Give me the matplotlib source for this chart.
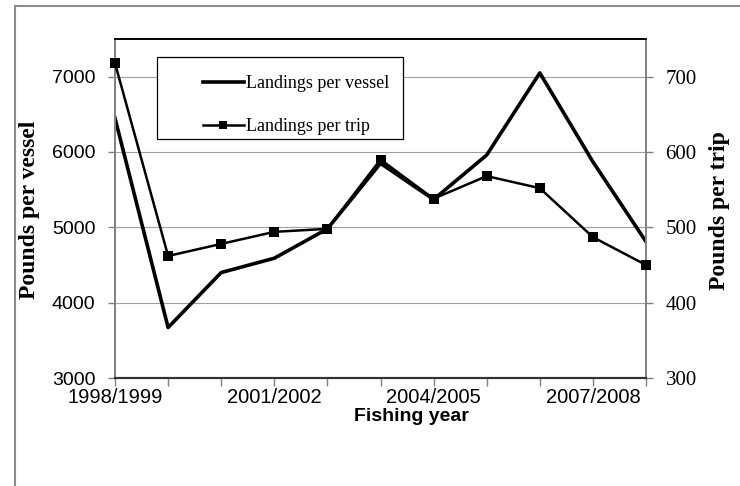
import matplotlib.pyplot as plt
from matplotlib.lines import Line2D
from matplotlib.patches import Rectangle

plt.rcParams['font.family'] = ['Liberation Sans', 'DejaVu Sans']

years = ['1998/1999', '1999/2000', '2000/2001', '2001/2002', '2002/2003', '2003/2004',
         '2004/2005', '2005/2006', '2006/2007', '2007/2008', '2008/2009']
per_vessel = [6450, 3670, 4400, 4590, 4980, 5850, 5370, 5960, 7050, 5870, 4810]
per_trip = [718, 462, 478, 494, 498, 590, 538, 568, 552, 487, 450]
shown = ['1998/1999', '2001/2002', '2004/2005', '2007/2008']
tick_labels = [y if y in shown else '' for y in years]

W, H = 740, 486
fig = plt.figure(figsize=(W / 100, H / 100), dpi=100)
# plot area in pixels: x 115..646, y 39..378
ax = fig.add_axes([115 / W, 1 - 378 / H, (646 - 115) / W, (378 - 39) / H])
ax2 = ax.twinx()

x = list(range(len(years)))
l1, = ax.plot(x, per_vessel, color='black', lw=2.6, label='Landings per vessel')
l2, = ax2.plot(x, per_trip, color='black', lw=1.8, marker='s', ms=7.5, mew=0,
               label='Landings per trip', clip_on=False, zorder=3)

ax.set_xlim(0, len(years) - 1)
ax.set_ylim(3000, 7500)
ax2.set_ylim(300, 750)
ax.set_yticks([3000, 4000, 5000, 6000, 7000])
ax2.set_yticks([300, 400, 500, 600, 700])
ax.set_xticks(x)
ax.set_xticklabels(tick_labels)
ax.yaxis.grid(True, color='#a0a0a0', lw=0.8)
ax.set_axisbelow(True)

ax.tick_params(axis='y', length=5, color='#808080', width=1, pad=9, labelsize=14)
ax.tick_params(axis='x', length=6, color='#808080', width=1, pad=1, labelsize=14.5)
ax2.tick_params(axis='y', length=5, color='#808080', width=1, pad=9, labelsize=15,
                labelfontfamily='Liberation Serif')

for a in (ax, ax2):
    a.spines['left'].set_color('#808080')
    a.spines['right'].set_color('#808080')
    a.spines['left'].set_linewidth(1.2)
    a.spines['right'].set_linewidth(1.2)
    a.spines['top'].set_color('black')
    a.spines['top'].set_linewidth(1.2)
    a.spines['bottom'].set_color('#333333')
    a.spines['bottom'].set_linewidth(1.5)

ax.set_xlabel('Fishing year', fontsize=14, fontweight='bold')
ax.xaxis.set_label_coords((411 - 115) / 531, (378 - 408) / 339)
ax.set_ylabel('Pounds per vessel', fontsize=17, fontweight='bold',
              family='Liberation Serif', va='center')
ax.yaxis.set_label_coords((30 - 115) / 531, (378 - 210) / 339)
ax2.set_ylabel('Pounds per trip', fontsize=17, fontweight='bold',
               family='Liberation Serif', va='center', rotation=90)
ax2.yaxis.set_label_coords((720 - 115) / 531, (378 - 211) / 339)

# legend box
box = Rectangle(((157 - 115) / 531, (378 - 139) / 339), 246 / 531, 82 / 339,
                transform=ax2.transAxes, facecolor='white', edgecolor='black',
                lw=0.9, zorder=5)
ax2.add_patch(box)
leg = ax2.legend([l1, l2], [l1.get_label(), l2.get_label()], loc='upper left',
                 bbox_to_anchor=((194 - 115) / 531, (378 - 66) / 339),
                 frameon=False, borderpad=0, handlelength=2.25, handletextpad=0.15,
                 labelspacing=1.45, markerscale=0.8,
                 prop={'family': 'Liberation Serif', 'size': 13})
leg.set_zorder(6)

# outer frame of the figure
fig.add_artist(Line2D([15 / W, 15 / W], [0, 1 - 6 / H], transform=fig.transFigure,
                      color='#8c8c8c', lw=1.5))
fig.add_artist(Line2D([15 / W, 1], [1 - 6 / H, 1 - 6 / H], transform=fig.transFigure,
                      color='#8c8c8c', lw=1.5))

fig.savefig('out.png', dpi=100)
